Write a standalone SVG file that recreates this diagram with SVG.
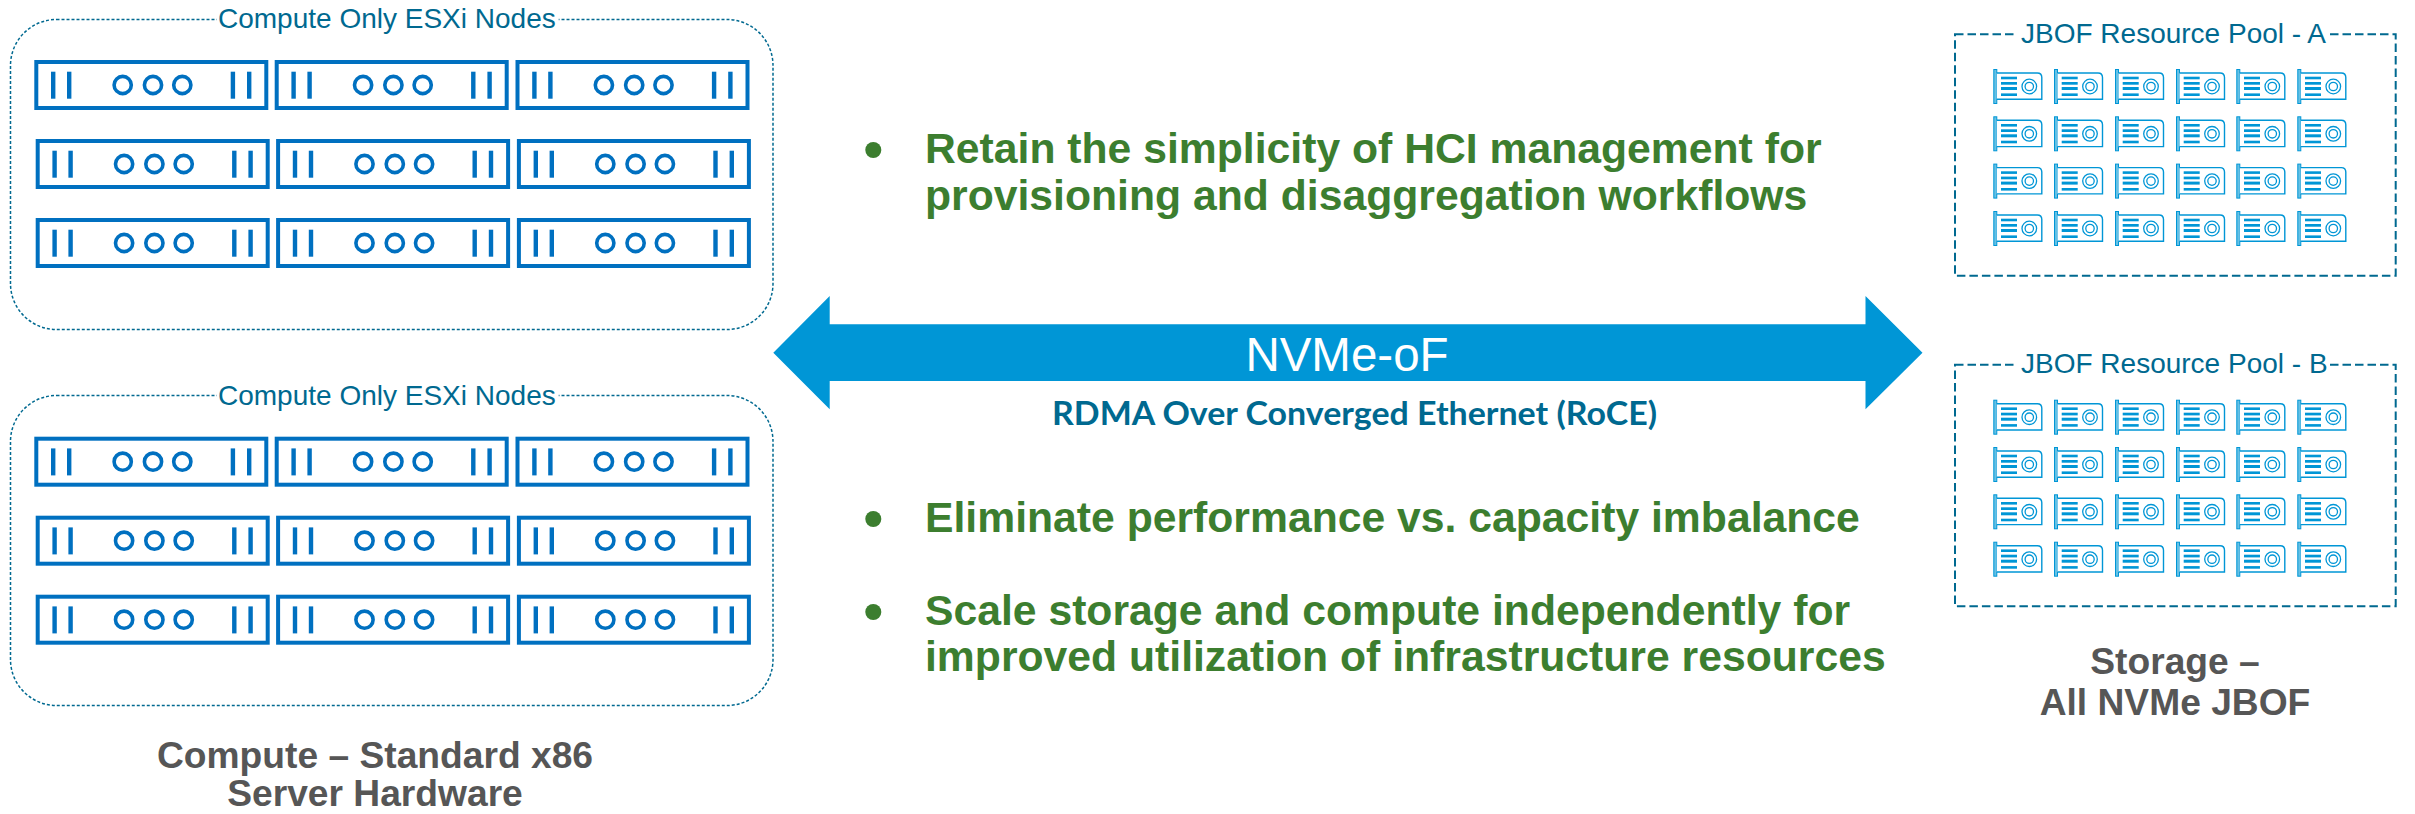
<svg xmlns="http://www.w3.org/2000/svg" width="2415" height="814" viewBox="0 0 2415 814">
<style>
text{font-family:"Liberation Sans",Arial,sans-serif}
.pool{fill:none;stroke:#006990;stroke-width:1.5;stroke-dasharray:3 2}
.jb{fill:none;stroke:#006990;stroke-width:2;stroke-dasharray:8.500 4}
.lab{fill:#006990;font-size:28px}
.bul{fill:#3c7e2f;font-size:42.700px;font-weight:bold}
.dot{fill:#3c7e2f;font-size:56px;font-weight:bold}
.cap{fill:#565656;font-size:37.200px;font-weight:bold;text-anchor:middle}
</style>
<defs>
<g id="srv"><rect x="2" y="2" width="230" height="46" fill="#fff" stroke="#0070c0" stroke-width="4"/>
<g fill="#0070c0"><rect x="16.700" y="11.700" width="4.400" height="27"/><rect x="32.700" y="11.700" width="4.400" height="27"/><rect x="196.400" y="11.700" width="4.400" height="27"/><rect x="212.700" y="11.700" width="4.400" height="27"/></g>
<g fill="none" stroke="#0070c0" stroke-width="3.600"><circle cx="88.400" cy="25" r="8.600"/><circle cx="118.700" cy="25" r="8.600"/><circle cx="148" cy="25" r="8.600"/></g></g>
<g id="row"><use href="#srv" x="0"/><use href="#srv" x="240.400"/><use href="#srv" x="481.200"/></g>
<g id="cluster"><use href="#row" x="34.300" y="0"/><use href="#row" x="35.700" y="79"/><use href="#row" x="35.700" y="158"/></g>
<g id="ssd"><rect x="0.500" y="0.500" width="3" height="34" fill="#66c0e4" stroke="#0096d6" stroke-width="1"/>
<path d="M3.500 4H44q4.500 0 4.500 4.500V30.300H3.500" fill="#fff" stroke="#0096d6" stroke-width="1.400"/>
<g fill="#0096d6"><rect x="7.700" y="7.700" width="16" height="2.600"/><rect x="7.700" y="13" width="16" height="2.700"/><rect x="7.700" y="18" width="16" height="3"/><rect x="7.700" y="24.400" width="16" height="2.600"/></g>
<circle cx="36" cy="17.500" r="7.300" fill="none" stroke="#0096d6" stroke-width="1.300"/><circle cx="36" cy="17.500" r="4.200" fill="none" stroke="#0096d6" stroke-width="1.300"/></g>
<g id="ssdrow"><use href="#ssd" x="0"/><use href="#ssd" x="60.700"/><use href="#ssd" x="121.700"/><use href="#ssd" x="182.700"/><use href="#ssd" x="243"/><use href="#ssd" x="304"/></g>
<g id="ssds"><use href="#ssdrow" y="0"/><use href="#ssdrow" y="47.300"/><use href="#ssdrow" y="94.600"/><use href="#ssdrow" y="142"/></g>
</defs>
<rect width="2415" height="814" fill="#fff"/>
<g id="compute-a"><rect class="pool" x="10.500" y="19.500" width="762.500" height="310" rx="46"/><rect x="216.700" y="2" width="342" height="34" fill="#fff"/><text class="lab" x="218" y="28">Compute Only ESXi Nodes</text><use href="#cluster" y="60"/></g>
<g id="compute-b"><rect class="pool" x="10.500" y="395.500" width="762.500" height="310" rx="46"/><rect x="216.700" y="378" width="342" height="34" fill="#fff"/><text class="lab" x="218" y="404.500">Compute Only ESXi Nodes</text><use href="#cluster" y="436.700"/></g>
<g id="pool-a"><rect class="jb" x="1955" y="34.300" width="440.700" height="241.500"/><rect x="2016.500" y="14" width="313.500" height="40" fill="#fff"/><text class="lab" x="2021" y="42.700">JBOF Resource Pool - A</text><use href="#ssds" x="1993.300" y="69"/></g>
<g id="pool-b"><rect class="jb" x="1955" y="364.700" width="440.700" height="241.500"/><rect x="2016.500" y="344" width="313.500" height="40" fill="#fff"/><text class="lab" x="2021" y="373.300">JBOF Resource Pool - B</text><use href="#ssds" x="1993.300" y="399.700"/></g>
<g id="connectors"><path id="nvme-arrow" d="M773.300 352.700L829.700 296V324.300H1865.500V296L1922.500 352.700L1865.500 409.300V381H829.700V409.300Z" fill="#0096d6"/></g>
<text x="1347" y="371" text-anchor="middle" fill="#fff" font-size="47.500">NVMe-oF</text>
<text x="1354.500" y="425" text-anchor="middle" fill="#006990" font-size="33" font-weight="bold" textLength="605" lengthAdjust="spacingAndGlyphs" style="font-family:Lato,'Liberation Sans',sans-serif">RDMA Over Converged Ethernet (RoCE)</text>
<g id="bullets">
<text class="dot" x="863.500" y="168">•</text><text class="bul" x="925" y="162.700">Retain the simplicity of HCI management for</text><text class="bul" x="925" y="209.500">provisioning and disaggregation workflows</text>
<text class="dot" x="863.500" y="537">•</text><text class="bul" x="925" y="531.500">Eliminate performance vs. capacity imbalance</text>
<text class="dot" x="863.500" y="629.500">•</text><text class="bul" x="925" y="624.500">Scale storage and compute independently for</text><text class="bul" x="925" y="671">improved utilization of infrastructure resources</text>
</g>
<text class="cap" x="375" y="768">Compute – Standard x86</text><text class="cap" x="375" y="806">Server Hardware</text>
<text class="cap" x="2175" y="674">Storage –</text><text class="cap" x="2175" y="715">All NVMe JBOF</text>
</svg>
